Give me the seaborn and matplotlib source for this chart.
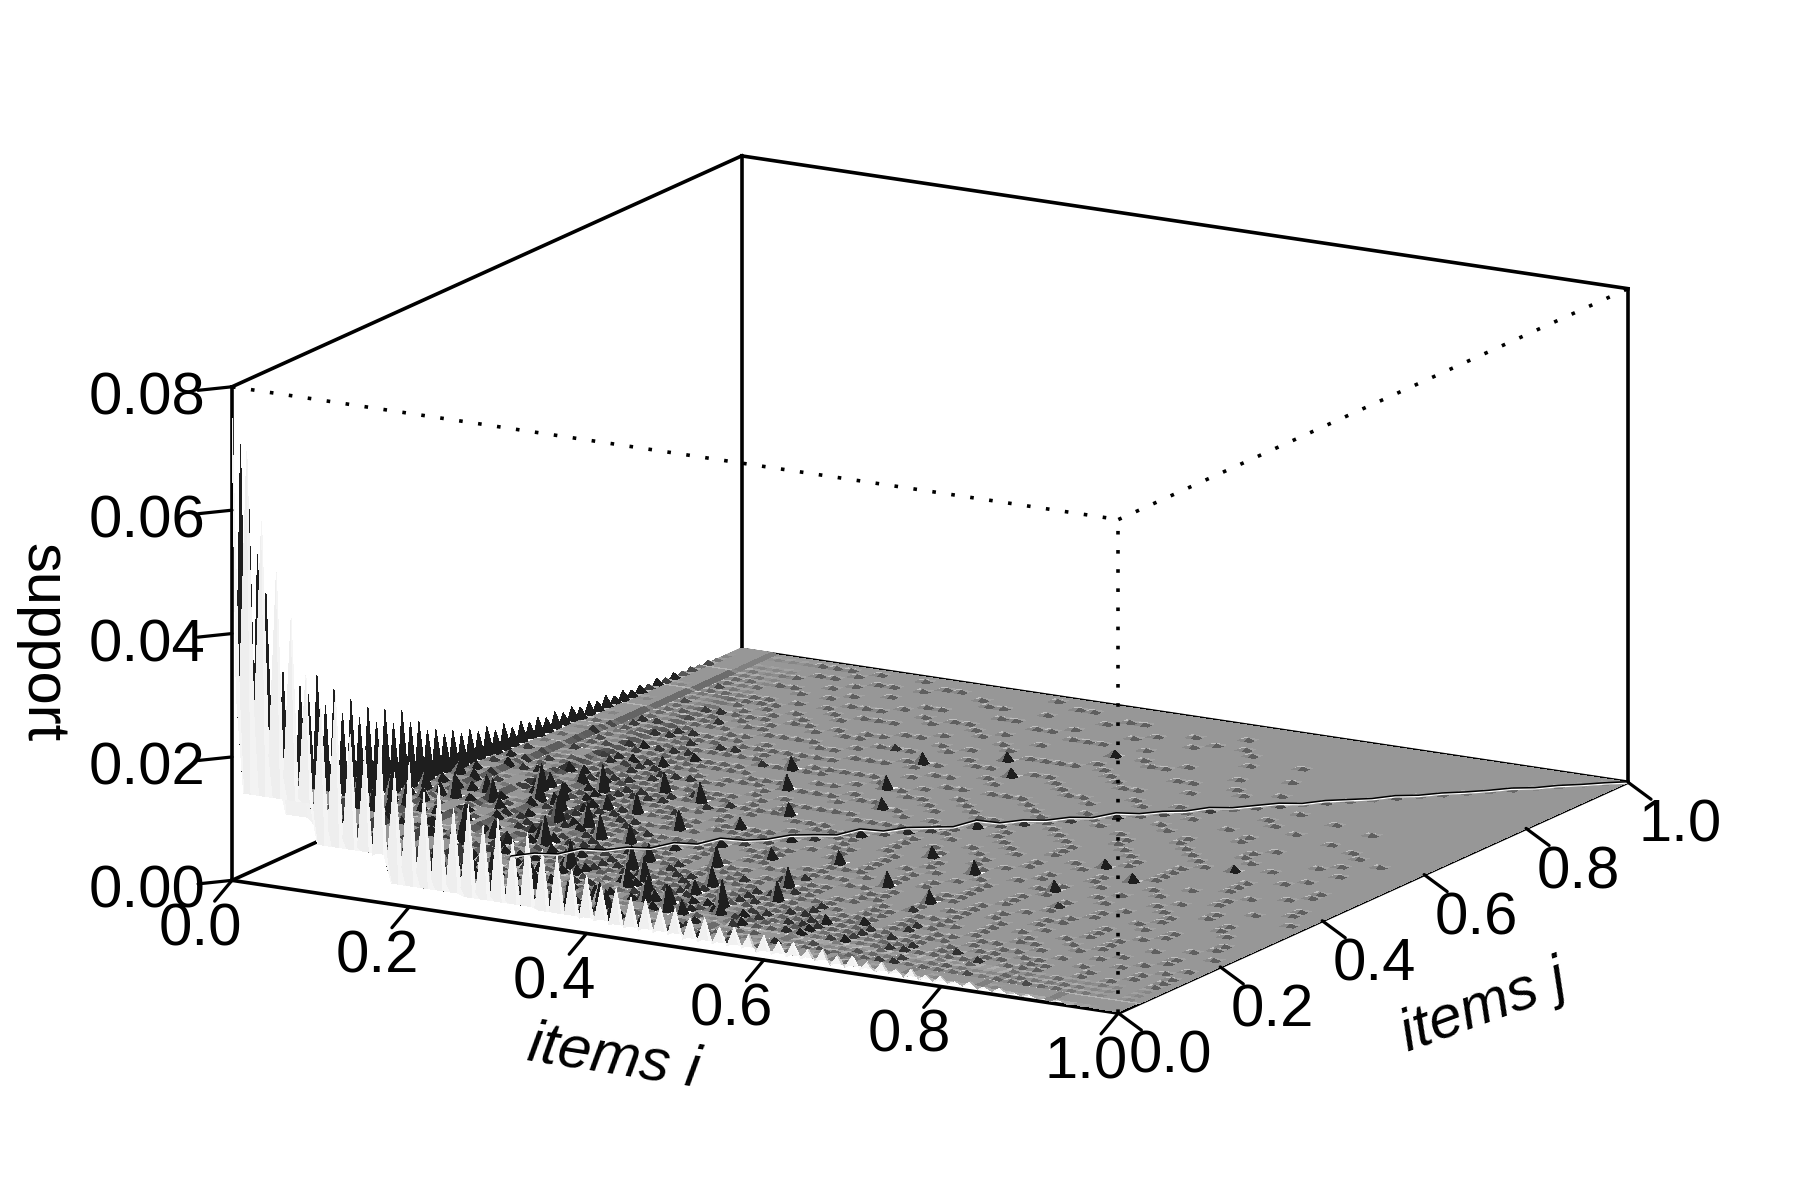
import numpy as np
import seaborn as sns
import matplotlib
matplotlib.use('Agg')
import matplotlib.pyplot as plt
from mpl_toolkits.mplot3d import proj3d

i_ticks = [0.0, 0.2, 0.4, 0.6, 0.8, 1.0]
j_ticks = [0.0, 0.2, 0.4, 0.6, 0.8, 1.0]
z_ticks = [0.00, 0.02, 0.04, 0.06, 0.08]
i_labels = ['0.0', '0.2', '0.4', '0.6', '0.8', '1.0']
j_labels = ['0.0', '0.2', '0.4', '0.6', '0.8', '1.0']
z_labels = ['0.00', '0.02', '0.04', '0.06', '0.08']

# support read on every second item: one row per i = k/60, starting on the diagonal j = i
# rows 0-5 are in units of 1e-4, the rest in units of 3.5e-4
row_00 = [750,700,590,510,440,350,300,325,265,245,270,215,235,190,205,170,180,150,165,135,150,125,120,100,95,80,80,70,70,60,62,50,54,42,46,38,40,33,36,28,32,25,28,22,25,18,21,15,17,12,15,10,12,8,9,6,7,4,3,2,1]
# the items in between along the edge
edge_valleys = [300,260,210,180,150,125,110,95,85,75,70,62,58,52,48,44,40,37,34,31,29,27,25,23,22,20,18,16,15,14,13,12,11,10,10,9,9,8,8,7,7,6,6,5,5,4,4,3,3,3,3,2,2,2,2,1,1,1,0,0]
row_01 = [120,90,110,70,95,60,130,55,105,45,85,40,90,36,62,30,70,28,46,25,52,22,34,20,40,18,28,15,24,14,22,12,20,10,16,9,14,8,12,7,11,6,9,5,8,4,7,3,6,3,5,2,4,2,3,1,2,1,1]
row_02 = [40,75,35,90,30,70,28,85,25,60,22,72,20,48,18,56,16,40,15,36,14,30,12,33,11,22,10,26,9,18,8,16,8,14,7,12,6,15,6,10,5,8,5,7,4,6,3,5,3,4,2,3,2,2,1,1,1,0]
row_03 = [25,32,55,20,38,26,60,18,30,24,44,17,26,21,34,16,24,20,55,15,28,14,16,18,14,12,19,11,12,14,10,9,14,8,9,10,8,7,7,9,10,6,6,5,5,7,4,4,3,5,3,3,2,2,1,0,1]
row_04 = [18,42,22,28,16,48,19,22,26,36,15,18,21,30,14,15,17,24,13,42,12,17,10,11,14,20,9,9,11,12,8,8,7,10,6,7,8,6,5,9,4,5,6,4,3,3,4,3,2,2,3,2,1,1,0,1]
row_05 = [14,18,34,12,20,25,40,11,16,19,28,10,13,15,22,9,11,45,18,8,9,12,14,7,8,10,17,6,7,5,9,6,5,8,5,4,7,4,4,3,5,3,6,2,2,3,2,1,3,1,1,2,1,0,1]
row_06 = [4,10,3,13,5,6,2,9,6,4,3,11,5,3,2,7,4,3,2,5,14,8,3,2,1,4,2,2,3,3,1,2,3,1,1,2,2,1,1,1,1,2,0,1,1,1,0,0,1,0,1,0,0,1]
row_07 = [3,2,8,4,12,2,5,7,10,3,4,2,6,5,3,1,5,12,2,2,4,1,7,3,2,2,1,2,3,1,1,2,1,1,1,2,0,1,2,0,1,1,0,1,1,0,0,1,0,0,1,0,1]
row_08 = [3,9,2,5,1,12,3,3,5,6,2,3,4,4,1,3,6,9,2,2,3,1,3,2,1,2,2,2,1,1,2,1,2,1,1,0,1,0,1,1,0,1,1,0,0,1,0,0,0,1,0,1]
row_09 = [2,2,6,3,4,1,8,3,2,4,4,1,2,3,10,1,2,3,3,13,1,2,2,1,1,2,4,1,1,2,1,0,1,1,1,0,1,0,1,1,0,0,1,0,0,0,1,0,0,1,0]
row_10 = [2,5,1,3,5,6,1,2,4,3,2,12,2,2,3,3,1,2,2,2,1,1,2,2,1,1,1,3,0,1,2,0,1,1,0,1,1,0,0,1,0,0,0,1,0,0,1,0,0,1]
row_11 = [2,1,4,2,2,4,5,1,2,3,3,1,2,2,6,1,1,2,2,1,1,1,2,0,1,1,1,0,1,2,1,0,0,1,0,0,1,1,0,0,1,0,0,1,0,0,1,0,0]
row_12 = [2,3,1,2,14,4,2,1,3,11,1,1,2,2,1,1,2,1,9,1,0,2,1,0,1,1,0,1,0,1,1,0,1,0,0,1,0,0,1,0,1,0,0,0,0,1,0,0]
row_13 = [2,1,3,1,2,1,2,2,1,1,2,1,9,0,1,2,2,0,1,1,1,0,0,1,1,0,1,1,1,0,0,1,0,1,0,0,1,0,0,1,0,0,1,0,0,0,1]
row_14 = [2,2,1,2,2,11,1,1,2,2,0,1,1,1,0,1,2,1,0,1,1,0,1,0,2,0,0,1,0,0,1,0,0,1,0,0,1,0,1,0,0,0,0,1,0,0]
row_15 = [2,1,2,1,1,0,2,1,1,0,1,2,1,0,9,1,1,0,0,1,1,0,0,1,0,1,1,0,1,0,0,1,0,0,0,1,0,0,1,0,0,0,0,1,0]
row_16 = [2,1,0,8,1,2,0,1,1,1,0,1,2,0,1,1,0,0,1,1,0,0,6,0,0,1,0,1,0,0,1,1,0,0,1,0,0,0,1,0,0,0,1,0]
row_17 = [2,0,1,1,1,0,9,1,1,0,0,1,2,0,0,1,1,0,1,0,0,1,1,0,1,0,0,1,0,0,1,0,0,0,0,1,0,1,0,0,0,0,0]
row_18 = [2,1,0,1,0,1,0,0,1,1,0,1,1,1,0,0,7,0,0,0,1,1,0,0,1,0,0,1,0,0,1,0,0,1,0,0,0,0,0,1,0,0]
row_19 = [3,0,1,0,0,1,1,0,0,1,1,0,0,1,0,1,0,1,0,0,1,0,0,1,0,0,2,0,0,1,0,0,0,1,0,0,0,1,0,0,0]
row_20 = [2,1,0,0,1,5,0,0,0,1,1,1,0,0,1,0,1,0,0,1,0,0,1,0,0,1,0,0,0,1,0,0,1,0,0,0,1,0,0,0]
row_21 = [2,0,1,1,1,0,0,0,6,0,1,0,0,1,0,0,1,0,1,0,0,0,1,0,0,0,1,0,0,0,1,0,0,1,0,0,0,0,0]
row_22 = [2,0,1,1,0,0,1,0,0,1,0,1,0,1,0,0,1,0,0,0,1,5,0,0,1,0,0,0,1,0,0,0,1,0,0,0,0,1]
row_23 = [3,0,0,1,0,1,0,0,1,0,0,1,0,0,6,0,0,1,0,0,1,0,0,0,1,0,0,0,1,0,0,0,0,1,0,0,0]
row_24 = [2,0,0,1,1,0,0,1,0,0,1,0,0,1,0,0,0,1,0,0,0,1,0,0,0,1,0,0,0,1,0,0,0,0,1,0]
row_25 = [2,0,1,0,0,1,0,0,5,0,0,1,0,1,0,0,1,0,0,1,0,0,0,1,0,0,0,0,1,0,0,0,0,1,0]
row_26 = [2,1,0,0,1,0,0,1,0,0,1,0,0,1,0,0,0,0,1,0,4,0,0,0,1,0,0,0,1,0,0,0,0,0]
row_27 = [2,0,0,1,0,1,0,0,1,0,0,0,1,0,0,1,0,0,0,0,1,0,0,0,0,1,0,0,0,1,0,0,0]
row_28 = [2,0,1,0,0,0,1,0,0,1,0,0,0,1,0,4,0,0,0,1,0,0,0,0,1,0,0,0,0,1,0,0]
row_29 = [3,0,0,1,0,0,0,1,0,0,1,0,0,0,0,1,0,0,1,0,0,0,0,1,0,0,0,0,1,0,0]
row_30 = [2,1,0,0,0,1,0,0,0,1,0,0,0,0,1,0,0,1,0,0,0,0,0,0,1,0,0,0,0,0]
row_31 = [2,0,0,1,0,0,0,0,1,0,0,0,1,0,0,0,0,1,0,3,0,0,0,0,1,0,0,0,0]
row_32 = [1,0,1,0,0,0,1,0,0,0,1,0,0,0,0,1,0,0,0,0,1,0,0,0,0,0,0,0]
row_33 = [2,0,0,0,1,0,0,0,1,0,0,0,0,1,0,0,0,1,0,0,0,0,0,1,0,0,0]
row_34 = [1,0,1,0,0,0,0,1,0,0,0,1,0,0,0,1,0,0,0,0,1,0,0,0,0,0]
row_35 = [2,0,0,0,0,1,0,0,0,1,0,0,0,0,1,0,0,0,0,0,1,0,0,0,0]
row_36 = [1,0,1,0,0,0,0,0,1,0,0,0,0,0,1,0,0,0,0,0,0,1,0,0]
row_37 = [2,0,0,0,0,1,0,0,0,0,1,0,0,0,0,0,0,0,1,0,0,0,0]
row_38 = [1,0,0,1,0,0,0,0,0,1,0,0,0,0,0,0,1,0,0,0,0,0]
row_39 = [1,0,0,0,0,0,1,0,0,0,0,0,0,1,0,0,0,0,0,0,0]
row_40 = [1,0,1,0,0,0,0,0,0,1,0,0,0,0,0,0,0,0,0,0]
row_41 = [2,0,0,0,0,0,1,0,0,0,0,0,0,0,0,0,0,0,0]
row_42 = [1,0,0,0,1,0,0,0,0,0,0,1,0,0,0,0,0,0]
row_43 = [1,0,0,0,0,0,0,1,0,0,0,0,0,0,0,0,0]
row_44 = [1,0,0,1,0,0,0,0,0,0,0,0,0,0,0,0]
support_rows = [row_00, row_01, row_02, row_03, row_04, row_05, row_06, row_07, row_08, row_09,
                row_10, row_11, row_12, row_13, row_14, row_15, row_16, row_17, row_18, row_19,
                row_20, row_21, row_22, row_23, row_24, row_25, row_26, row_27, row_28, row_29,
                row_30, row_31, row_32, row_33, row_34, row_35, row_36, row_37, row_38, row_39,
                row_40, row_41, row_42, row_43, row_44]

# height of the crease on the diagonal, units of 1e-4
diag_line = [750,120,40,25,18,14,12,10,9,8,8,7,7,9,5,11,6,8,4,10,5,12,6,5,9,7,4,11,5,8,6,4,12,5,7,4,6,3,8,4,5,3,6,3,4,5,2,4,3,2,4,2,3,2,2,3,1,2,1,1,0]
# lowest surface near the edges, units of 1e-4: one row per block of 10 items in i, one value per block of 5 in j
floor_00 = [140,125]
floor_01 = [75,62,48,36]
floor_02 = [30,22,15,9,4]
floor_03 = [26,19,13,7,3]
floor_04 = [22,15,9,4]
floor_05 = [18,12,6,2]
floor_06 = [14,8,3]
floor_07 = [11,5,1]
floor_08 = [8,3]
floor_09 = [6,2]
floor_10 = [4]
floor_11 = [2]
floor_rows = [floor_00, floor_01, floor_02, floor_03, floor_04, floor_05,
              floor_06, floor_07, floor_08, floor_09, floor_10, floor_11]

n = 121
grid = np.zeros((n, n))
for k, row in enumerate(support_rows):
    unit = 1.0 if k < 6 else 3.5
    for m, v in enumerate(row):
        grid[2 * k, 2 * (k + m)] = v * unit
grid[0, 1::2] = edge_valleys
for k, v in enumerate(diag_line):
    grid[2 * k, 2 * k] = v
# the matrix is symmetric in i and j
grid = grid + np.triu(grid, 1).T
for b, row in enumerate(floor_rows):
    for c, v in enumerate(row):
        for a in range(10 * b, 10 * b + 11):
            for d in range(5 * c, min(5 * c + 5, a + 1)):
                grid[a, d] = max(grid[a, d], v)
                grid[d, a] = grid[a, d]
grid = grid * 1e-4

sns.set_style('white')
plt.rcParams['font.family'] = ['Liberation Sans', 'DejaVu Sans']
plt.rcParams['text.color'] = 'black'
FS = 43
ZMAX = 0.08

axis_i = np.linspace(0, 1, n)
axis_j = np.linspace(0, 1, n)
X, Y = np.meshgrid(axis_i, axis_j, indexing='ij')


def face_shades(z):
    # grey level of each cell from its normal and the viewing direction
    step = 2.0 / (n - 1)
    zn = z / ZMAX
    dzi = (zn[1:, :-1] + zn[1:, 1:] - zn[:-1, :-1] - zn[:-1, 1:]) / 2 / step
    dzj = (zn[:-1, 1:] + zn[1:, 1:] - zn[:-1, :-1] - zn[1:, :-1]) / 2 / step
    norm = np.sqrt(dzi ** 2 + dzj ** 2 + 1)
    facing = (-0.48 * dzi + 0.84 * dzj + 0.26) / norm
    shade = 0.59 - 1.3 * (facing - 0.26)
    shade = np.where(facing < 0.26, 0.59 + 0.9 * (0.26 - facing), shade)
    # undersides come out nearly white
    shade = np.where(facing < 0, 0.97 + 0.04 * facing, shade)
    return np.clip(shade, 0.12, 0.98)


fig = plt.figure(figsize=(18, 12), dpi=100)
ax = fig.add_subplot(projection='3d', proj_type='ortho', computed_zorder=False)
ax.set_box_aspect((2, 2, 1))
ax.view_init(elev=15.1, azim=-60.1)
ax.set_xlim(0, 1, view_margin=0)
ax.set_ylim(0, 1, view_margin=0)
ax.set_zlim(0, ZMAX, view_margin=0)
ax.set_axis_off()

cmap = sns.color_palette('gray', as_cmap=True)
ax.plot_surface(X, Y, grid, facecolors=cmap(face_shades(grid)), shade=False,
                rstride=1, cstride=1, linewidth=0, antialiased=False, zorder=2)

# crease along the diagonal
diag = np.diag(grid)[::2]
diag_t = axis_i[::2]
start = 12
ax.plot(diag_t[start:], diag_t[start:], diag[start:], color='black', lw=1.8, zorder=3)
ax.plot(diag_t[start:], diag_t[start:], diag[start:] - 0.00015, color='white', lw=0.9, zorder=3)

# box
BOX = dict(color='black', lw=2.6, solid_capstyle='projecting', zorder=1)
DOT = dict(color='black', lw=2.6, linestyle=(0, (1, 4.3)), zorder=4)
for a, b in [((0, 0, 0), (1, 0, 0)), ((1, 0, 0), (1, 1, 0)), ((1, 1, 0), (0, 1, 0)), ((0, 1, 0), (0, 0, 0)),
             ((0, 0, 0), (0, 0, ZMAX)), ((0, 1, 0), (0, 1, ZMAX)), ((1, 1, 0), (1, 1, ZMAX)),
             ((0, 0, ZMAX), (0, 1, ZMAX)), ((0, 1, ZMAX), (1, 1, ZMAX))]:
    ax.plot(*zip(a, b), **BOX)
for a, b in [((1, 0, 0), (1, 0, ZMAX)), ((0, 0, ZMAX), (1, 0, ZMAX)), ((1, 0, ZMAX), (1, 1, ZMAX))]:
    ax.plot(*zip(a, b), **DOT)

# ticks
TICK = dict(color='black', lw=2.3, zorder=5)
for v in i_ticks:
    ax.plot([v, v], [0, -0.034], [0, -0.0021], **TICK)
for v in j_ticks:
    ax.plot([1, 1.026], [v, v], [0, -0.0022], **TICK)
for v in z_ticks:
    ax.plot([0, -0.0383], [0, 0], [v, v - 0.0014], **TICK)

fig.text(614 / 1800, 1 - 1058 / 1200, 'items i', fontsize=FS, style='italic', rotation=-9,
         ha='center', va='center')
fig.text(1484 / 1800, 1 - 1008 / 1200, 'items j', fontsize=FS, style='italic', rotation=20,
         ha='center', va='center')
fig.text(42 / 1800, 1 - 643 / 1200, 'support', fontsize=FS, rotation=270,
         ha='center', va='center')


def to_pixels(x, y, z):
    ax.apply_aspect()
    xs, ys, _ = proj3d.proj_transform(x, y, z, ax.get_proj())
    return ax.transData.transform((xs, ys))


# place the axes so the box corners land where they do in the figure
side, cx, cy = 1200.0, 900.0, 600.0
target_a = np.array([232.0, 1200 - 880.0])
target_c = np.array([1628.0, 1200 - 289.0])
for _ in range(4):
    ax.set_position([(cx - side / 2) / 1800, (cy - side / 2) / 1200, side / 1800, side / 1200])
    pa = to_pixels(0, 0, 0)
    pc = to_pixels(1, 1, ZMAX)
    side *= (target_c[0] - target_a[0]) / (pc[0] - pa[0])
    ax.set_position([(cx - side / 2) / 1800, (cy - side / 2) / 1200, side / 1800, side / 1200])
    pa = to_pixels(0, 0, 0)
    pc = to_pixels(1, 1, ZMAX)
    shift = (target_a + target_c) / 2 - (pa + pc) / 2
    cx += shift[0]
    cy += shift[1]
ax.set_position([(cx - side / 2) / 1800, (cy - side / 2) / 1200, side / 1800, side / 1200])


def tick_label(x, y, z, s):
    # flat text at the projected spot, so it stays put with the axes
    px, py = to_pixels(x, y, z)
    fig.text(px / 1800, py / 1200, s, fontsize=FS, ha='center', va='center')


for v, s in zip(i_ticks, i_labels):
    tick_label(v, -0.063, -0.0057, s)
for v, s in zip(j_ticks, j_labels):
    tick_label(1.0586, v, -0.0059, s)
for v, s in zip(z_ticks, z_labels):
    tick_label(-0.0958, 0, v - 0.004, s)

fig.savefig('out.png', dpi=100)
